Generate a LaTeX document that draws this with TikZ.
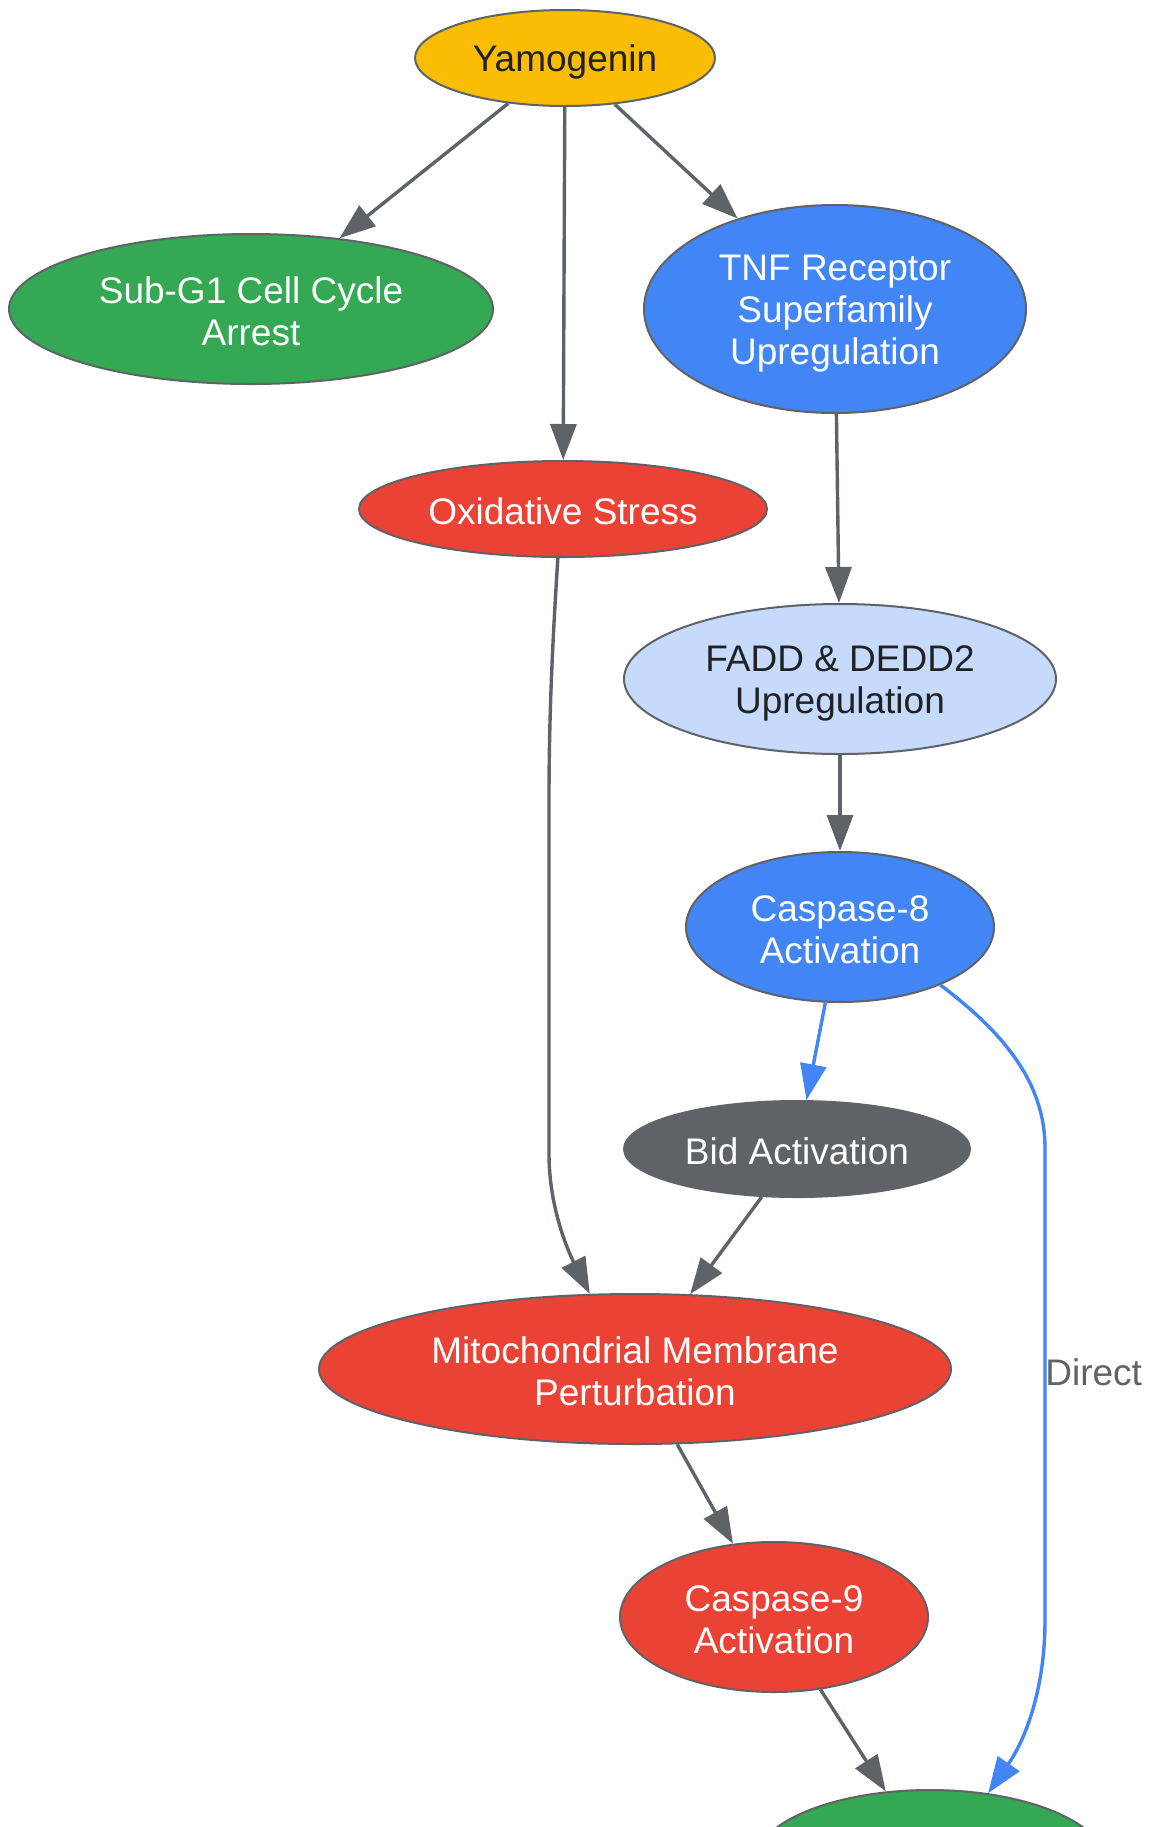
\documentclass[tikz,border=0pt]{standalone}
\usepackage{fontspec}
\setmainfont{Liberation Sans}
\usetikzlibrary{shapes.geometric,arrows.meta}
\definecolor{gyellow}{HTML}{FBBC04}
\definecolor{ggreen}{HTML}{34A853}
\definecolor{gblue}{HTML}{4285F4}
\definecolor{gred}{HTML}{EA4335}
\definecolor{glight}{HTML}{C6DAFC}
\definecolor{ggray}{HTML}{5F6368}
\definecolor{gdark}{HTML}{202124}
\newcommand\lsx{\rule[-1.8pt]{0pt}{18.8pt}}
\tikzset{
  nd/.style={ellipse, draw=ggray, line width=1pt, inner sep=0pt, align=center,
    font=\fontsize{18.5}{21}\selectfont},
  yel/.style={nd, fill=gyellow, text=gdark},
  grn/.style={nd, fill=ggreen, text=white},
  blu/.style={nd, fill=gblue, text=white},
  rd/.style={nd, fill=gred, text=white},
  lbl/.style={nd, fill=glight, text=gdark},
  gry/.style={nd, fill=ggray, draw=ggray, text=white},
  edge/.style={draw=ggray, line width=1.7pt, -{Triangle[length=18pt,width=13pt]}},
  bedge/.style={draw=gblue, line width=1.7pt, -{Triangle[length=18pt,width=13pt]}},
  elabel/.style={inner sep=0pt, text=ggray, font=\fontsize{18.5}{21}\selectfont},
}
\begin{document}
\begin{tikzpicture}[x=0.5pt,y=-0.5pt]
\clip (0,0) rectangle (1148,1827);
\fill[white] (0,0) rectangle (1148,1827);
\node[yel, minimum width=150pt, minimum height=48pt] (yam) at (565,58) {\lsx Yamogenin};
\node[grn, minimum width=242pt, minimum height=75pt] (sub) at (251,309) {\lsx Sub-G1 Cell Cycle\\\lsx Arrest};
\node[blu, minimum width=191pt, minimum height=104pt] (tnf) at (835,309) {\lsx TNF Receptor\\\lsx Superfamily\\\lsx Upregulation};
\node[rd, minimum width=204pt, minimum height=48pt] (ox) at (563,509) {\lsx Oxidative Stress};
\node[lbl, minimum width=216pt, minimum height=75pt] (fadd) at (840,679) {\lsx FADD \& DEDD2\\\lsx Upregulation};
\node[blu, minimum width=154pt, minimum height=75pt] (c8) at (840,927) {\lsx Caspase-8\\\lsx Activation};
\node[gry, minimum width=173pt, minimum height=48pt] (bid) at (797,1149) {\lsx Bid Activation};
\node[rd, minimum width=316pt, minimum height=75pt] (mito) at (635,1369) {\lsx Mitochondrial Membrane\\\lsx Perturbation};
\node[rd, minimum width=154pt, minimum height=75pt] (c9) at (774,1617) {\lsx Caspase-9\\\lsx Activation};
\node[grn, minimum width=177pt, minimum height=75pt] (apo) at (930,1865) {};
\node[elabel, anchor=west] (dl) at (1045,1372) {Direct};

\draw[edge] (yam) -- (sub);
\draw[edge] (yam) -- (ox);
\draw[edge] (yam) -- (tnf);
\draw[edge] (tnf) -- (fadd);
\draw[edge] (fadd) -- (c8);
\draw[bedge] (c8) -- (bid);
\draw[edge] (bid) -- (mito);
\draw[edge] (mito) -- (c9);
\draw[edge] (c9) -- (apo.121);
\draw[edge] (ox.-96) .. controls (552,650) and (549,720) .. (549,800)
   -- (549,1154) .. controls (549,1210) and (570,1255) .. (mito.121.5);
\draw[bedge] (c8.-30.6) .. controls (1000,1030) and (1045,1080) .. (1045,1148)
   -- (1045,1620) .. controls (1045,1690) and (1025,1740) .. (apo.51);
\end{tikzpicture}
\end{document}
